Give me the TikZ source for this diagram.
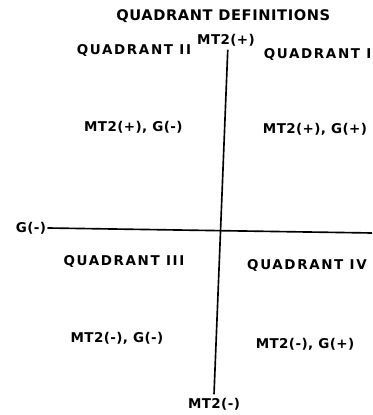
\documentclass[tikz,border=0pt]{standalone}
\usepackage{fontspec}
\setmainfont{DejaVu Sans}[LetterSpace=3]
\usepackage{tikz}
\usetikzlibrary{positioning}

\begin{document}
\begin{tikzpicture}[
          lbl/.style={inner sep=1pt, font=\fontsize{11.5}{13}\selectfont\bfseries},
          qlbl/.style={lbl, font=\fontsize{11.5}{13}\selectfont\bfseries\addfontfeature{LetterSpace=12}},
          ttl/.style={inner sep=1pt, font=\fontsize{12.5}{14}\selectfont\bfseries\addfontfeature{LetterSpace=4}},
          axis/.style={draw=black, line width=1.4pt}
        ]
        \useasboundingbox (0,0) rectangle (11.16,12.45);

        % Title
        \node[ttl] (title) at (6.70, 11.97) {QUADRANT DEFINITIONS};

        % Axis labels
        \node[lbl] (mtp) at (6.78, 11.25) {MT2(+)};
        \node[lbl] (mtm) at (6.42, 0.33)  {MT2(-)};
        \node[lbl] (gm)  at (0.93, 5.61)  {G(-)};
        \coordinate (gp) at (11.16, 5.46);

        % Quadrant names
        \node[qlbl] (q1) at (9.53, 10.83) {QUADRANT I};
        \node[qlbl] (q2) at (4.02, 10.95) {QUADRANT II};
        \node[qlbl] (q3) at (3.72, 4.62)  {QUADRANT III};
        \node[qlbl] (q4) at (9.21, 4.50)  {QUADRANT IV};

        % Signs
        \node[lbl] (s1) at (9.45, 8.58) {MT2(+), G(+)};
        \node[lbl] (s2) at (4.00, 8.64) {MT2(+), G(-)};
        \node[lbl] (s3) at (3.51, 2.31) {MT2(-), G(-)};
        \node[lbl] (s4) at (9.15, 2.13) {MT2(-), G(+)};

        % Axes
        \draw[axis] ([xshift=1.5pt, yshift=-2pt]mtp.south) -- ([yshift=2pt]mtm.north);
        \draw[axis] (gm.east) -- (gp);
      \end{tikzpicture}
\end{document}
